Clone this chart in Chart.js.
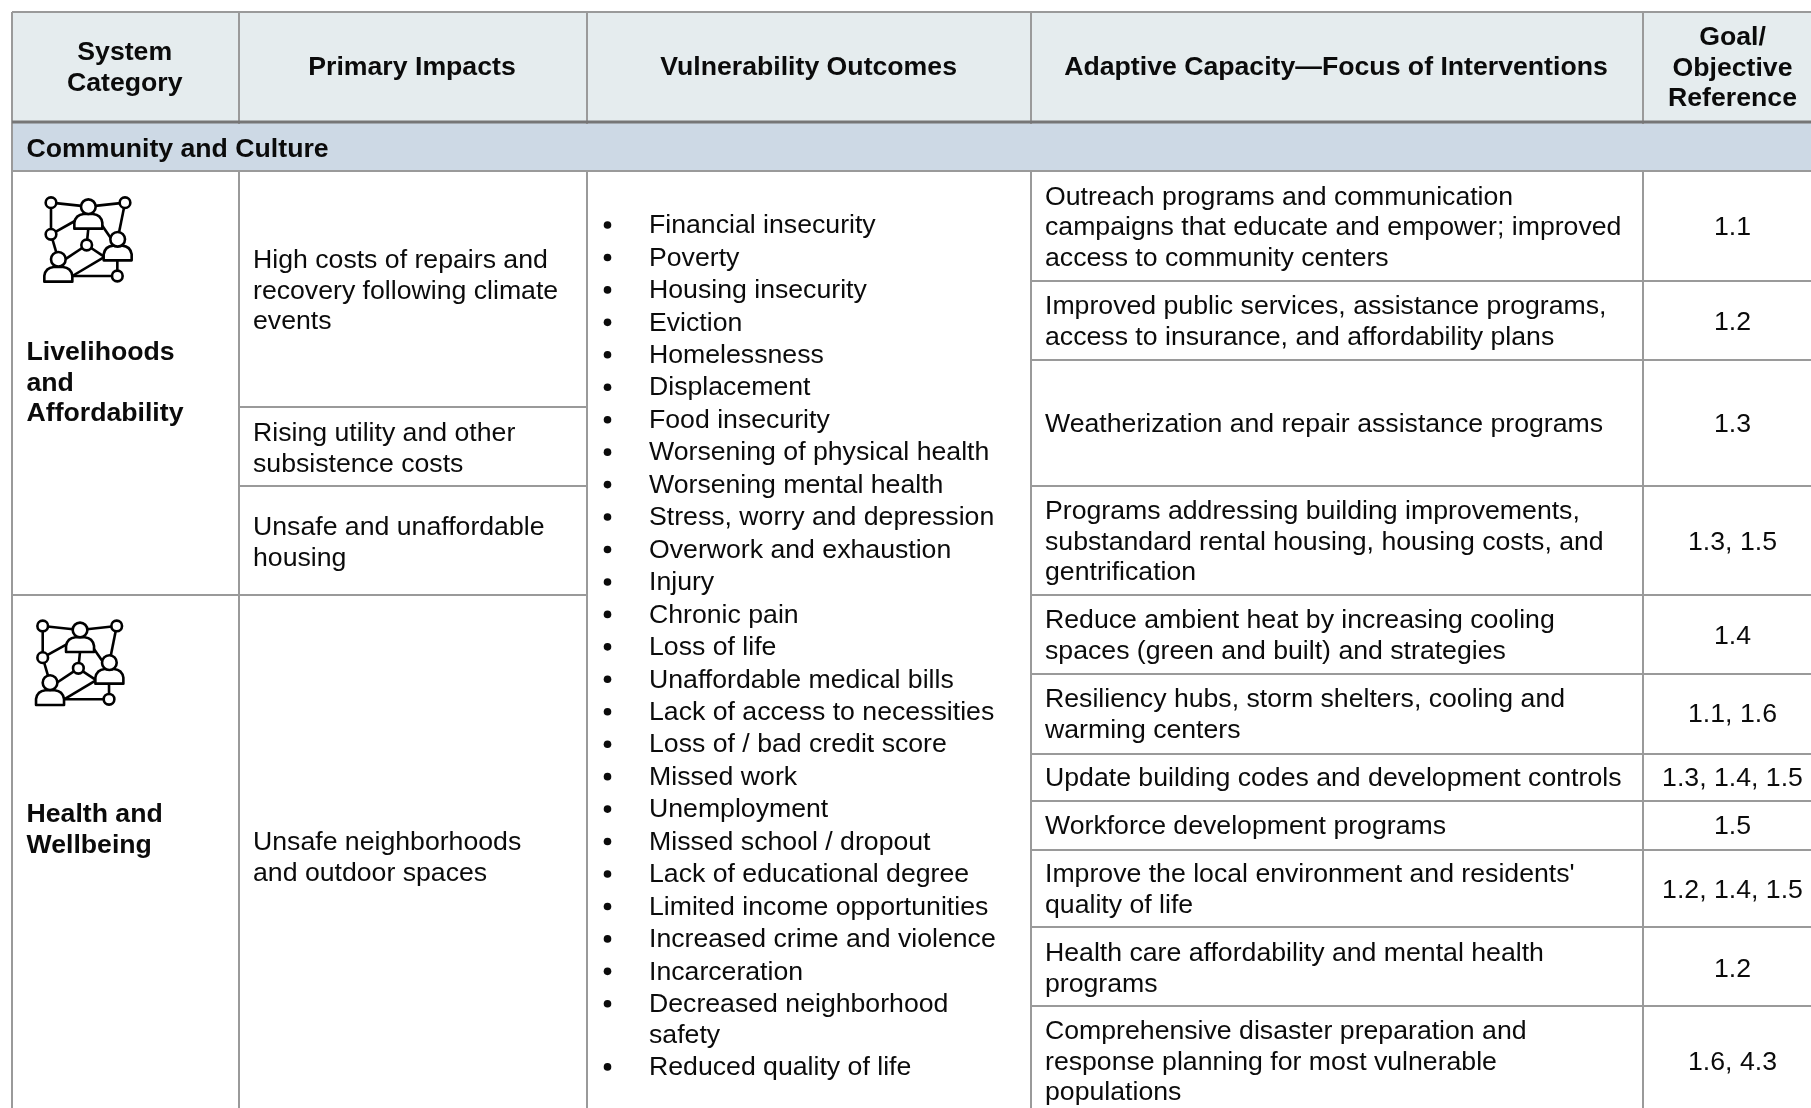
<!DOCTYPE html>
<html><head><meta charset="utf-8">
<style>html,body{margin:0;padding:0;background:#fff}canvas{display:block}</style>
<script src="https://cdn.jsdelivr.net/npm/chart.js@4"></script>
</head><body><canvas id="c" width="1811" height="1108"></canvas>
<script>
// ---- table content ----
const headers = [["System","Category"],["Primary Impacts"],["Vulnerability Outcomes"],["Adaptive Capacity\u2014Focus of Interventions"],["Goal/","Objective","Reference"]];
const sectionTitle = "Community and Culture";
const systemCategories = [["Livelihoods","and","Affordability"],["Health and","Wellbeing"]];
const primaryImpacts = [["High costs of repairs and","recovery following climate","events"],["Rising utility and other","subsistence costs"],["Unsafe and unaffordable","housing"],["Unsafe neighborhoods","and outdoor spaces"]];
const vulnerabilityOutcomes = [["Financial insecurity"],["Poverty"],["Housing insecurity"],["Eviction"],["Homelessness"],["Displacement"],["Food insecurity"],["Worsening of physical health"],["Worsening mental health"],["Stress, worry and depression"],["Overwork and exhaustion"],["Injury"],["Chronic pain"],["Loss of life"],["Unaffordable medical bills"],["Lack of access to necessities"],["Loss of / bad credit score"],["Missed work"],["Unemployment"],["Missed school / dropout"],["Lack of educational degree"],["Limited income opportunities"],["Increased crime and violence"],["Incarceration"],["Decreased neighborhood","safety"],["Reduced quality of life"]];
const interventions = [["Outreach programs and communication","campaigns that educate and empower; improved","access to community centers"],["Improved public services, assistance programs,","access to insurance, and affordability plans"],["Weatherization and repair assistance programs"],["Programs addressing building improvements,","substandard rental housing, housing costs, and","gentrification"],["Reduce ambient heat by increasing cooling","spaces (green and built) and strategies"],["Resiliency hubs, storm shelters, cooling and","warming centers"],["Update building codes and development controls"],["Workforce development programs"],["Improve the local environment and residents'","quality of life"],["Health care affordability and mental health","programs"],["Comprehensive disaster preparation and","response planning for most vulnerable","populations"]];
const references = ["1.1","1.2","1.3","1.3, 1.5","1.4","1.1, 1.6","1.3, 1.4, 1.5","1.5","1.2, 1.4, 1.5","1.2","1.6, 4.3"];

// ---- layout, kept apart from the content ----
const W = 1811, H = 1108;
const colEdges = [12, 239, 587, 1031, 1643, 1822];
const tableTop = 12, headerBottom = 122, sectionBottom = 171;
const interventionEdges = [171, 281, 360, 486, 595, 674, 754, 801, 850, 927, 1006, 1114];
const rowTextNudge = [0, 0, 0, 0, 0, -1, -1, -1, 0, 1, 0.4];
const impactEdges = [171, 407, 486, 595, 1117];
const categoryEdge = 595;
const headerCenters = [124.7, 412, 808.6, 1336, 1732.5];
const lineH = 30.65, itemGap = 1.8, fontPx = 26.67;
const FONT = '"Liberation Sans", Arial, sans-serif';
const GRID = '#9a9a9a', HEADER_RULE = '#767676', HEAD_FILL = '#e5ecee', BAND_FILL = '#cdd9e5', INK = '#0b0b0b';

function seg(x1, y1, x2, y2, color, width) {
  return { type: 'scatter', showLine: true, data: [{x:x1,y:y1},{x:x2,y:y2}], borderColor: color, borderWidth: width, pointRadius: 0, fill: false, order: 1 };
}
function band(x1, x2, y1, y2, color) {
  return { type: 'scatter', showLine: true, data: [{x:x1,y:y2},{x:x2,y:y2}], borderWidth: 0, borderColor: 'transparent', pointRadius: 0, backgroundColor: color, fill: {value: y1}, order: 5 };
}
const datasets = [
  band(colEdges[0], W, tableTop, headerBottom, HEAD_FILL),
  band(colEdges[0], W, headerBottom, sectionBottom, BAND_FILL),
  seg(colEdges[0], tableTop, W, tableTop, GRID, 2),
  seg(colEdges[0], sectionBottom, W, sectionBottom, GRID, 2),
];
colEdges.slice(0, 5).forEach((x, i) => {
  datasets.push(seg(x, tableTop, x, headerBottom + 2, GRID, 2));
  if (i === 0) datasets.push(seg(x, headerBottom, x, sectionBottom, GRID, 2));
  datasets.push(seg(x, sectionBottom, x, H, GRID, 2));
});
interventionEdges.slice(1, -1).forEach(y => datasets.push(seg(colEdges[3], y, W, y, GRID, 2)));
impactEdges.slice(1, -1).forEach(y => datasets.push(seg(colEdges[1], y, colEdges[2], y, GRID, 2)));
datasets.push(seg(colEdges[0], categoryEdge, colEdges[1], categoryEdge, GRID, 2));
datasets.push(Object.assign(seg(colEdges[0], headerBottom, W, headerBottom, HEADER_RULE, 3), {order: 0}));

// ---- icon geometry, in its own local units ----
const iconNodes = [[93,68,16],[205,80,22],[315,68,16],[93,163,16],[200,195,16],[293,178,22],[115,238,22],[292,288,16]];
const iconLinks = [[93,68,205,80],[205,80,315,68],[93,68,93,163],[315,68,293,178],[93,163,170,120],[93,163,115,238],[205,145,200,195],[235,120,280,185],[200,195,125,245],[200,195,260,235],[255,230,157,288],[157,288,292,288],[292,240,292,288]];
const iconBodies = [[163,146],[251,241],[73,305]];

const tablePlugin = {
  id: 'tablePlugin',
  afterDatasetsDraw(chart) {
    const ctx = chart.ctx, sx = chart.scales.x, sy = chart.scales.y;
    const X = v => sx.getPixelForValue(v), Y = v => sy.getPixelForValue(v);
    function lines(arr, x, yc, align, bold) {
      ctx.font = (bold ? 'bold ' : '') + fontPx + 'px ' + FONT;
      ctx.fillStyle = INK; ctx.textAlign = align; ctx.textBaseline = 'alphabetic';
      const y0 = yc - (arr.length - 1) * lineH / 2;
      arr.forEach((s, i) => ctx.fillText(s, X(x), Y(y0 + i * lineH + 9.2)));
    }
    ctx.save();
    headers.forEach((h, i) => lines(h, headerCenters[i], i === 4 ? 66.5 : 66, 'center', true));
    lines([sectionTitle], 26.5, 148, 'left', true);
    lines(systemCategories[0], 26.5, 381.5, 'left', true);
    lines(systemCategories[1], 26.5, 828.5, 'left', true);
    primaryImpacts.forEach((p, i) => lines(p, 253, (impactEdges[i] + impactEdges[i + 1]) / 2 + (i === 3 ? 0 : 0.5), 'left', false));
    interventions.forEach((t, i) => {
      const yc = (interventionEdges[i] + interventionEdges[i + 1]) / 2 + rowTextNudge[i];
      lines(t, 1045, yc, 'left', false);
      lines([references[i]], 1732.5, yc, 'center', false);
    });
    let y = 224;
    vulnerabilityOutcomes.forEach(item => {
      ctx.fillStyle = INK; ctx.beginPath(); ctx.arc(X(607.5), Y(y + 1), 3.8, 0, Math.PI * 2); ctx.fill();
      item.forEach((s, j) => { lines([s], 649, y + j * lineH, 'left', false); });
      y += item.length * lineH + itemGap;
    });
    [[20, 180], [11.7, 603.3]].forEach(([ox, oy]) => {
      const px = v => X(ox + v / 3), py = v => Y(oy + v / 3);
      ctx.strokeStyle = '#000'; ctx.lineWidth = 2.6; ctx.lineJoin = 'round';
      iconLinks.forEach(l => { ctx.beginPath(); ctx.moveTo(px(l[0]), py(l[1])); ctx.lineTo(px(l[2]), py(l[3])); ctx.stroke(); });
      iconBodies.forEach(([bx, by]) => {
        ctx.beginPath(); ctx.moveTo(px(bx), py(by)); ctx.lineTo(px(bx), py(by - 18));
        ctx.quadraticCurveTo(px(bx + 4), py(by - 42), px(bx + 28), py(by - 44));
        ctx.lineTo(px(bx + 56), py(by - 44));
        ctx.quadraticCurveTo(px(bx + 80), py(by - 42), px(bx + 84), py(by - 18));
        ctx.lineTo(px(bx + 84), py(by)); ctx.closePath();
        ctx.fillStyle = '#fff'; ctx.fill(); ctx.stroke();
      });
      iconNodes.forEach(([nx, ny, r]) => {
        ctx.beginPath(); ctx.arc(px(nx), py(ny), r / 3, 0, Math.PI * 2);
        ctx.fillStyle = '#fff'; ctx.fill(); ctx.stroke();
      });
    });
    ctx.restore();
  }
};

new Chart(document.getElementById('c'), {
  type: 'scatter',
  data: { datasets },
  options: {
    responsive: false, animation: false, devicePixelRatio: 1,
    layout: { padding: 0 },
    plugins: { legend: { display: false }, tooltip: { enabled: false } },
    events: [],
    scales: {
      x: { type: 'linear', min: 0, max: W, display: false },
      y: { type: 'linear', min: 0, max: H, reverse: true, display: false }
    }
  },
  plugins: [tablePlugin]
});
</script></body></html>
